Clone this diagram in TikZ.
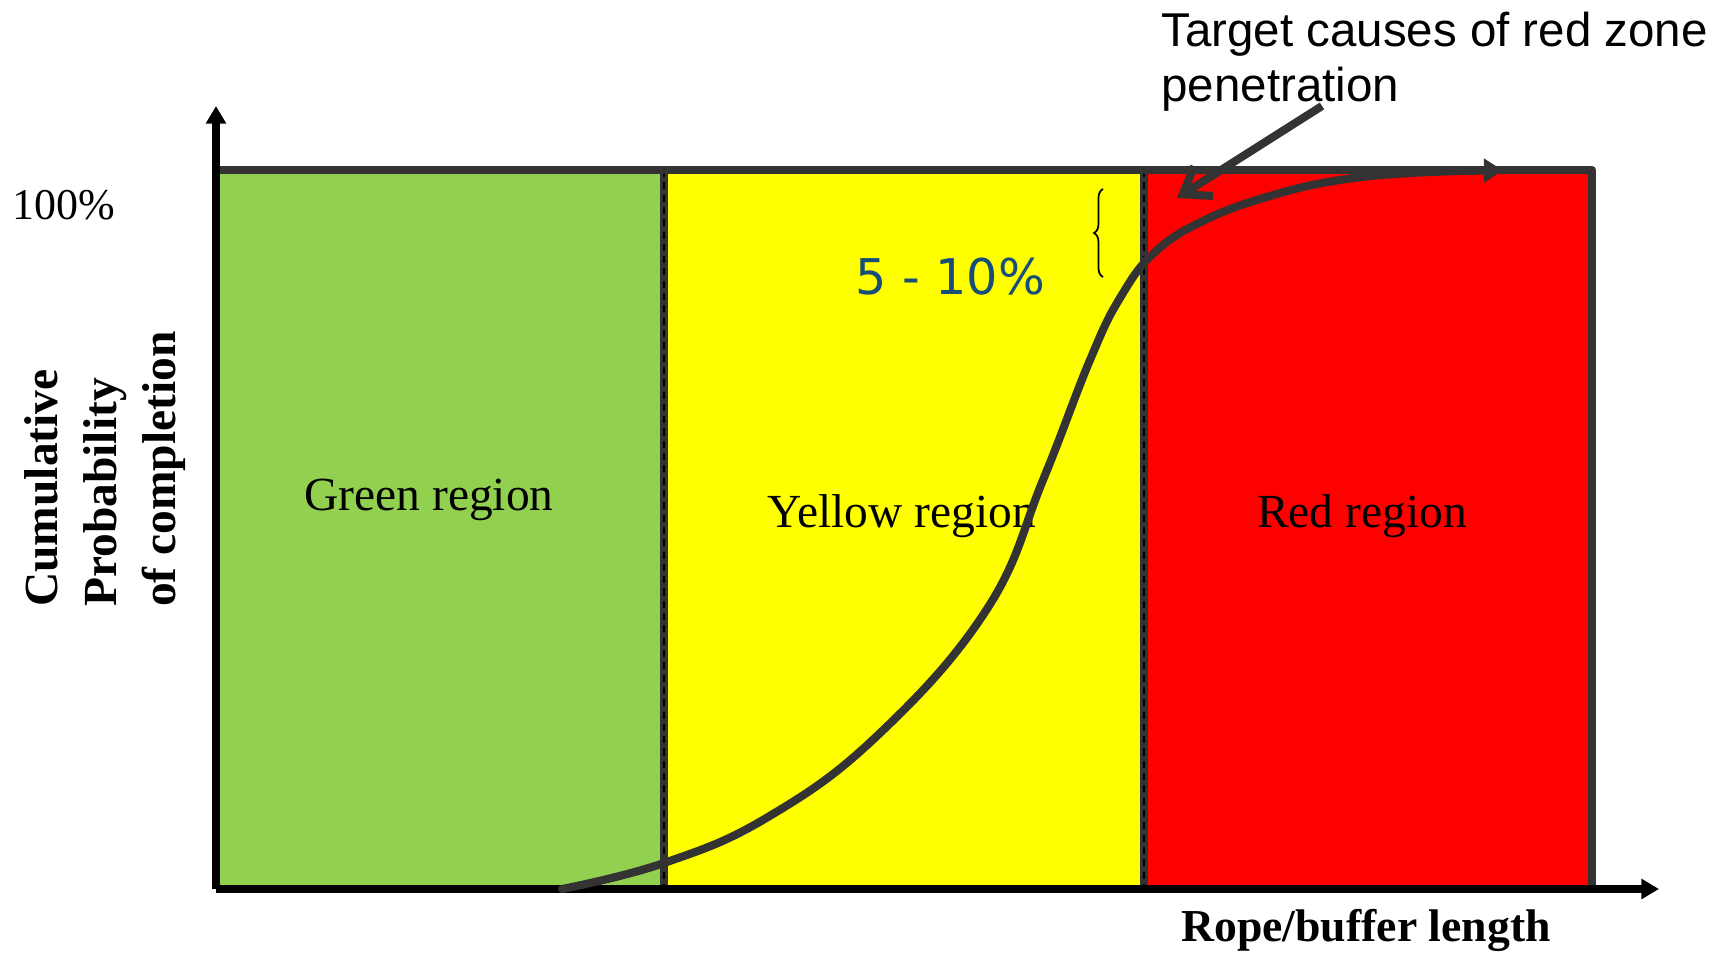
\documentclass[tikz,border=0pt]{standalone}
\usepackage{fontspec}
\setmainfont{Liberation Serif}
\newfontfamily\arialfont{Liberation Sans}
\newfontfamily\verdanafont{DejaVu Sans}
\usetikzlibrary{arrows.meta,decorations.pathreplacing}
\definecolor{zonegreen}{RGB}{146,208,80}
\definecolor{zoneyellow}{RGB}{255,255,0}
\definecolor{zonered}{RGB}{255,0,0}
\definecolor{linegray}{RGB}{51,51,51}
\definecolor{pctblue}{RGB}{23,78,120}
\begin{document}
\begin{tikzpicture}[x=0.01cm,y=-0.01cm,
	axis/.style={line width=2pt,-{Triangle[length=5pt,width=5.5pt]}},
	border/.style={linegray,line width=2.3pt,line join=round},
	divider/.style={linegray,line width=2pt},
	dividerdash/.style={black,line width=0.5pt,dash pattern=on 2pt off 1.5pt},
	zonelabel/.style={font=\fontsize{13.5}{16}\selectfont},
	axislabel/.style={font=\fontsize{13.5}{16.8}\selectfont\bfseries},
	curveline/.style={linegray,line width=2.3pt,line cap=round,-{Triangle[length=5.4pt,width=6.5pt]}},
	pointer/.style={linegray,line width=2.3pt,-{Straight Barb[length=7pt,width=10pt]}}]
	\useasboundingbox (0,0) rectangle (1720,958);

	% Ecken
	\coordinate (O) at (216,889);
	\coordinate (TL) at (216,170);
	\coordinate (TR) at (1592,170);
	\coordinate (BR) at (1592,889);
	\coordinate (GYt) at (664,170);
	\coordinate (GYb) at (664,889);
	\coordinate (YRt) at (1144,170);
	\coordinate (YRb) at (1144,889);
	\coordinate (Ytip) at (216,106);
	\coordinate (Xtip) at (1659,889);

	% Bereiche
	\fill[zonegreen] (TL) rectangle (GYb);
	\fill[zoneyellow] (GYt) rectangle (YRb);
	\fill[zonered] (YRt) rectangle (BR);

	% Trennlinien
	\draw[divider] (GYt) -- (GYb);
	\draw[dividerdash] (GYt) -- (GYb);
	\draw[divider] (YRt) -- (YRb);
	\draw[dividerdash] (YRt) -- (YRb);
	\draw[border] (TL) -- (TR) -- (BR);

	% Achsen
	\draw[axis] (O) -- (Ytip);
	\draw[axis] (O) -- (Xtip);

	% Beschriftungen
	\node (hundred) at (64,205) [font=\fontsize{12.5}{15}\selectfont] {100\%};
	\node (ylabel) at (105,469) [axislabel,rotate=90,align=left] {Cumulative\\Probability\\of completion};
	\node (xlabel) at (1366,930) [font=\fontsize{13}{16}\selectfont\bfseries] {Rope/buffer length};
	\node (green) at (429,500) [zonelabel] {Green region};
	\node (yellow) at (902,516) [zonelabel] {Yellow region};
	\node (red) at (1362,516) [zonelabel] {Red region};
	\node (pct) at (950,277) [font=\fontsize{14}{17}\selectfont\verdanafont,text=pctblue] {5 - 10\%};
	\node (target) at (1149,102) [anchor=base west,align=left,font=\fontsize{13.5}{15.9}\selectfont\arialfont] {Target causes of red zone\\penetration};

	% Klammer
	\draw[line width=0.5pt,decorate,decoration={brace,amplitude=0.09cm}] (1103,277) -- (1103,189);

	% Kurve
	\draw[curveline] plot[smooth,tension=0.7] coordinates {(562,889) (664,863) (768,817) (878,735) (987,609) (1043,480) (1090,360) (1120,298) (1155,252) (1205,220) (1270,196) (1340,180) (1420,172.5) (1503,170.5)};

	% Pfeil
	\coordinate (tgtfrom) at (1322,106);
	\coordinate (tgtto) at (1177,198);
	\draw[pointer] (tgtfrom) -- (tgtto);
\end{tikzpicture}
\end{document}
